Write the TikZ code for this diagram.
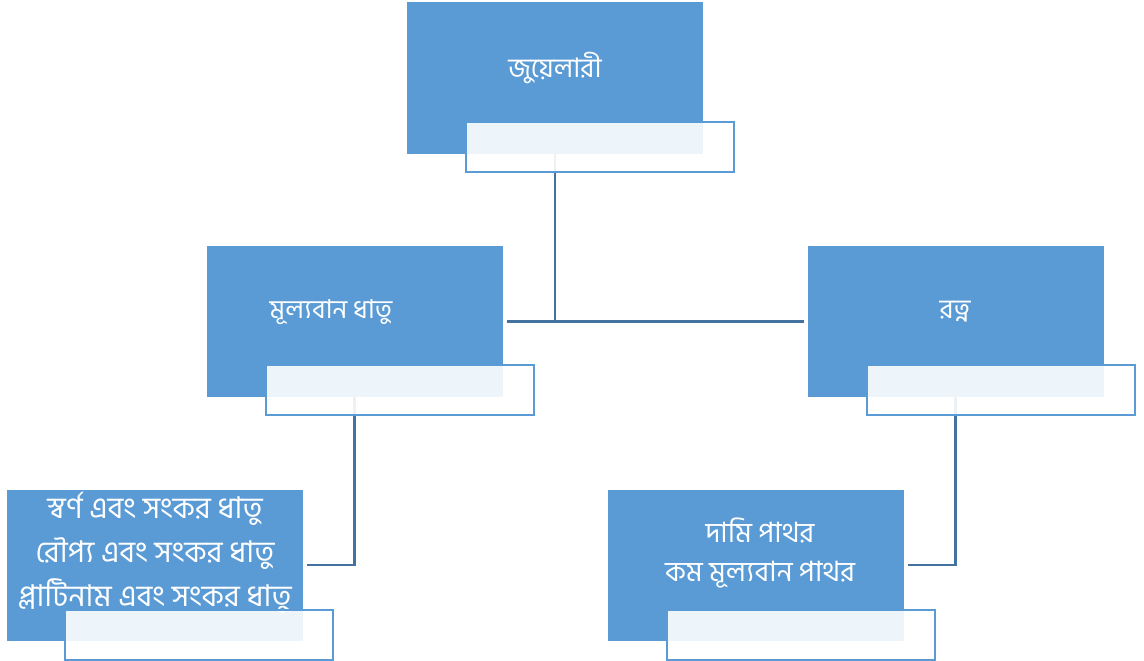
\documentclass[tikz,border=0pt]{standalone}
\usepackage{fontspec}
\newfontfamily\bn[Script=Bengali]{Hind Siliguri}
\definecolor{boxblue}{RGB}{91,155,213}
\definecolor{linkblue}{RGB}{68,114,160}
\tikzset{
  bluebox/.style={fill=boxblue, draw=none, minimum width=296pt, minimum height=151pt, inner sep=0pt},
  overlay/.style={fill=white, fill opacity=0.9, draw=boxblue, line width=2pt, minimum width=268pt, minimum height=50pt, inner sep=0pt},
  label/.style={text=white, font=\bn\fontsize{27}{40}\selectfont, align=center, inner sep=0pt},
  link/.style={draw=linkblue, line width=2.5pt}
}
\begin{document}
\begin{tikzpicture}[x=1pt,y=-1pt]
\useasboundingbox (0,0) rectangle (1144,661);
% blue boxes
\node[bluebox] (root) at (555,78) {};
\node[bluebox] (ml) at (354.5,321.5) {};
\node[bluebox] (rt) at (955.5,321.5) {};
\node[bluebox] (bl) at (154.5,565) {};
\node[bluebox] (br) at (755.5,565) {};
% labels
\node[label] (rootT) at (555,68) {জুয়েলারী};
\node[label, font=\bn\fontsize{26}{40}\selectfont] (mlT) at (331,312) {মূল্যবান ধাতু};
\node[label] (rtT) at (955,312) {রত্ন};
\node[label, font=\bn\fontsize{30}{44}\selectfont] (blT) at (155,553) {স্বর্ণ এবং সংকর ধাতু\\রৌপ্য এবং সংকর ধাতু\\প্লাটিনাম এবং সংকর ধাতু};
\node[label, font=\bn\fontsize{28}{39}\selectfont] (brT) at (760,553) {দামি পাথর\\কম মূল্যবান পাথর};
% connectors
\coordinate (hub) at (555,321);
\draw[link] (root.south) -- (root.south |- hub);
\draw[link] ([xshift=4pt]ml.east) -- ([xshift=-3pt]rt.west);
\draw[link] (ml.south) |- ([xshift=4pt]bl.east);
\draw[link] (rt.south) |- ([xshift=4pt]br.east);
% overlay text boxes
\node[overlay] (rootO) at (600,146.5) {};
\node[overlay] (mlO) at (399.5,390) {};
\node[overlay] (rtO) at (1000.5,390) {};
\node[overlay] (blO) at (199,635) {};
\node[overlay] (brO) at (800.5,635) {};
\end{tikzpicture}
\end{document}
